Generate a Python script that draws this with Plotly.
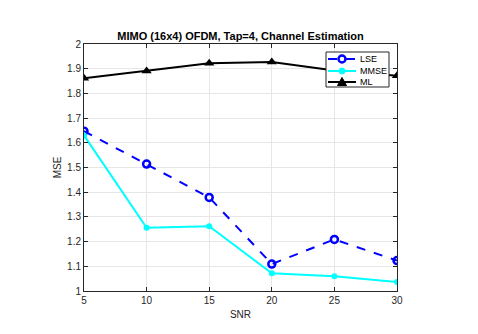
import plotly.graph_objects as go

snr = [5, 10, 15, 20, 25, 30]
lse = [1.647, 1.514, 1.379, 1.109, 1.209, 1.123]
mmse = [1.630, 1.256, 1.262, 1.072, 1.060, 1.036]
ml = [1.861, 1.891, 1.922, 1.927, 1.893, 1.871]
names = ["LSE", "MMSE", "ML"]

W, H = 478, 334
L, R, T, B = 84, 81, 44, 43
PW, PH = W - L - R, H - T - B


def px(x):
    return (x - L) / PW


def py(y):
    return (H - B - y) / PH


fig = go.Figure()
fig.add_trace(go.Scatter(x=snr, y=lse, name=names[0], mode="lines+markers",
                         line=dict(color="#0000FF", width=2, dash="dash"),
                         marker=dict(symbol="circle-open", size=7, color="#0000FF",
                                     line=dict(width=2.5, color="#0000FF"))))
fig.add_trace(go.Scatter(x=snr, y=mmse, name=names[1], mode="lines+markers",
                         line=dict(color="#00FFFF", width=2),
                         marker=dict(symbol="circle", size=6, color="#00FFFF")))
fig.add_trace(go.Scatter(x=snr, y=ml, name=names[2], mode="lines+markers",
                         line=dict(color="#000000", width=2),
                         marker=dict(symbol="triangle-up", size=9, color="#000000")))

axis_common = dict(showline=True, linecolor="#262626", linewidth=1, mirror="ticks",
                   ticks="inside", ticklen=4, tickcolor="#262626",
                   showgrid=True, gridcolor="#E6E6E6", gridwidth=1, zeroline=False,
                   tickfont=dict(family="Arial, Liberation Sans", size=10, color="#262626"),
                   title_font=dict(family="Arial, Liberation Sans", size=10, color="#262626"))

fig.update_xaxes(range=[5, 30], tickvals=[5, 10, 15, 20, 25, 30], title_text="SNR",
                 title_standoff=5, **axis_common)
fig.update_yaxes(range=[1, 2], dtick=0.1, tick0=1, title_text="MSE",
                 title_standoff=3, **axis_common)

# Manual compact legend (MATLAB style)
shapes = [dict(type="rect", xref="paper", yref="paper",
               x0=px(326), x1=px(389), y0=py(87), y1=py(52),
               line=dict(color="#262626", width=1), fillcolor="white", layer="above")]
ys = [59, 71, 82]
styles = [("#0000FF", "dash"), ("#00FFFF", "solid"), ("#000000", "solid")]
for yy, (col, dash) in zip(ys, styles):
    shapes.append(dict(type="line", xref="paper", yref="paper",
                       x0=px(328), x1=px(356), y0=py(yy), y1=py(yy),
                       line=dict(color=col, width=2, dash=dash), layer="above"))
# markers
shapes.append(dict(type="circle", xref="paper", yref="paper", xsizemode="pixel", ysizemode="pixel",
                   xanchor=px(342), yanchor=py(ys[0]), x0=-3.5, x1=3.5, y0=-3.5, y1=3.5,
                   line=dict(color="#0000FF", width=2.5), fillcolor="white", layer="above"))
shapes.append(dict(type="circle", xref="paper", yref="paper", xsizemode="pixel", ysizemode="pixel",
                   xanchor=px(342), yanchor=py(ys[1]), x0=-3, x1=3, y0=-3, y1=3,
                   line=dict(color="#00FFFF", width=1), fillcolor="#00FFFF", layer="above"))
shapes.append(dict(type="path", xref="paper", yref="paper", xsizemode="pixel", ysizemode="pixel",
                   xanchor=px(342), yanchor=py(ys[2]), path="M -4.5 -3.5 L 4.5 -3.5 L 0 4.5 Z",
                   line=dict(color="#000000", width=1), fillcolor="#000000", layer="above"))

annotations = [dict(text=n, xref="paper", yref="paper", x=px(358), y=py(yy),
                    xanchor="left", yanchor="middle", showarrow=False,
                    font=dict(family="Arial, Liberation Sans", size=9, color="#000000"))
               for n, yy in zip(names, ys)]

fig.update_layout(
    width=W, height=H,
    margin=dict(l=L, r=R, t=T, b=B),
    paper_bgcolor="white", plot_bgcolor="white",
    title=dict(text="<b>MIMO (16x4) OFDM, Tap=4, Channel Estimation</b>",
               x=(L + W - R) / 2 / W, xanchor="center", y=1 - 36 / H, yanchor="middle",
               font=dict(family="Arial, Liberation Sans", size=11, color="#000000")),
    showlegend=False,
    shapes=shapes,
    annotations=annotations,
)

fig.write_html("out.html")
